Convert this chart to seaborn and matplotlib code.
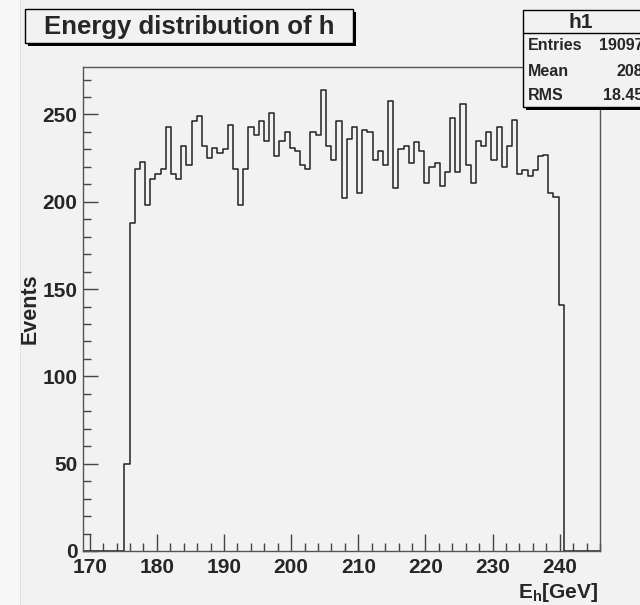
import numpy as np
import pandas as pd
import matplotlib
matplotlib.use("Agg")
import matplotlib.pyplot as plt
import seaborn as sns
from matplotlib.patches import Rectangle
from matplotlib.ticker import MultipleLocator

# Histogram h1: 100 bins from 169 to 246 GeV, only bins 8..92 hold entries
x_min, x_max, n_bins = 169.0, 246.0, 100
first_bin = 8
filled_counts = [
    50, 188, 219, 223, 198, 213, 216, 219, 243, 216,
    213, 232, 221, 246, 249, 232, 225, 231, 228, 230,
    244, 219, 198, 219, 243, 238, 246, 235, 251, 226,
    235, 240, 231, 229, 221, 219, 240, 238, 264, 232,
    224, 246, 202, 236, 243, 205, 241, 240, 224, 229,
    221, 258, 208, 230, 232, 222, 234, 229, 211, 220,
    222, 209, 217, 248, 217, 256, 221, 211, 235, 232,
    240, 224, 243, 220, 232, 247, 216, 218, 215, 218,
    226, 227, 205, 203, 141,
]
title = "Energy distribution of h"
stats_name = "h1"
stats_rows = [("Entries", "19097"), ("Mean", "208"), ("RMS", "18.45")]

edges = np.linspace(x_min, x_max, n_bins + 1)
centers = 0.5 * (edges[:-1] + edges[1:])
counts = np.zeros(n_bins)
counts[first_bin:first_bin + len(filled_counts)] = filled_counts
df = pd.DataFrame({"E": centers, "n": counts})
y_max = 1.05 * max(filled_counts)

sns.set_style("ticks")
plt.rcParams["font.family"] = ["Liberation Sans", "DejaVu Sans"]
plt.rcParams["font.weight"] = "bold"
plt.rcParams["mathtext.fontset"] = "custom"
plt.rcParams["mathtext.bf"] = "Liberation Sans:bold"
plt.rcParams["mathtext.rm"] = "Liberation Sans:bold"

bg = "#f2f2f2"
W, H = 640, 605
fig = plt.figure(figsize=(W / 100, H / 100), dpi=100, facecolor=bg)

# lighter strip at the far left, behind everything
fig.add_artist(Rectangle((0, 0), 20 / W, 1, transform=fig.transFigure,
                         facecolor="#f7f7f7", edgecolor="none", zorder=-5))
fig.add_artist(Rectangle((20 / W, 0), 1 / W, 1, transform=fig.transFigure,
                         facecolor="#e2e2e2", edgecolor="none", zorder=-5))

ax = fig.add_axes([83 / W, 1 - 551 / H, 517 / W, 484 / H], facecolor=bg)

sns.histplot(data=df, x="E", weights="n", bins=n_bins, binrange=(x_min, x_max),
             element="step", fill=False, color="#222222", linewidth=1.1, ax=ax)

ax.set_xlim(x_min, x_max)
ax.set_ylim(0, y_max)
ax.set_xlabel("")
ax.set_ylabel("Events", fontsize=15.5, fontweight="bold", labelpad=1)
ax.xaxis.set_major_locator(MultipleLocator(10))
ax.xaxis.set_minor_locator(MultipleLocator(2))
ax.yaxis.set_major_locator(MultipleLocator(50))
ax.yaxis.set_minor_locator(MultipleLocator(10))
ax.tick_params(axis="x", which="major", direction="in", length=12, width=1,
               color="#444444", labelsize=15, pad=5)
ax.tick_params(axis="x", which="minor", direction="in", length=6, width=1, color="#444444")
ax.tick_params(axis="y", which="major", direction="in", length=11, width=1,
               color="#444444", labelsize=15, pad=4)
ax.tick_params(axis="y", which="minor", direction="in", length=5.5, width=1, color="#444444")
for lab in ax.get_xticklabels() + ax.get_yticklabels():
    lab.set_fontweight("bold")
for sp in ax.spines.values():
    sp.set_visible(True)
    sp.set_color("#555555")
    sp.set_linewidth(1.0)

# overlay in pixel coordinates for the ROOT title / stats boxes
ov = fig.add_axes([0, 0, 1, 1], facecolor="none")
ov.set_xlim(0, W)
ov.set_ylim(H, 0)
ov.axis("off")

fig.text(598 / W, 1 - 598 / H, "E$_{\\mathbf{h}}$[GeV]", ha="right", va="baseline",
         fontsize=15, fontweight="bold")

# title box with shadow
ov.add_patch(Rectangle((28, 12), 328, 34, facecolor="black", edgecolor="none", zorder=2))
ov.add_patch(Rectangle((25, 9), 328, 34, facecolor=bg, edgecolor="black", lw=1, zorder=3))
ov.text(189, 27, title, ha="center", va="center", fontsize=18.5, fontweight="bold", zorder=4)

# stats box with shadow
ov.add_patch(Rectangle((526, 13), 130, 97, facecolor="black", edgecolor="none", zorder=2))
ov.add_patch(Rectangle((523, 10), 130, 97, facecolor=bg, edgecolor="black", lw=1, zorder=3))
ov.plot([523, W], [33, 33], color="black", lw=1, zorder=4)
ov.text(581, 22, stats_name, ha="center", va="center", fontsize=15, fontweight="bold", zorder=4)
for i, (name, val) in enumerate(stats_rows):
    y = 46 + i * 25
    ov.text(528, y, name, ha="left", va="center", fontsize=11.5, fontweight="bold", zorder=4)
    ov.text(643, y, val, ha="right", va="center", fontsize=11.5, fontweight="bold", zorder=4)

fig.savefig("out.png", dpi=100, facecolor=bg)
